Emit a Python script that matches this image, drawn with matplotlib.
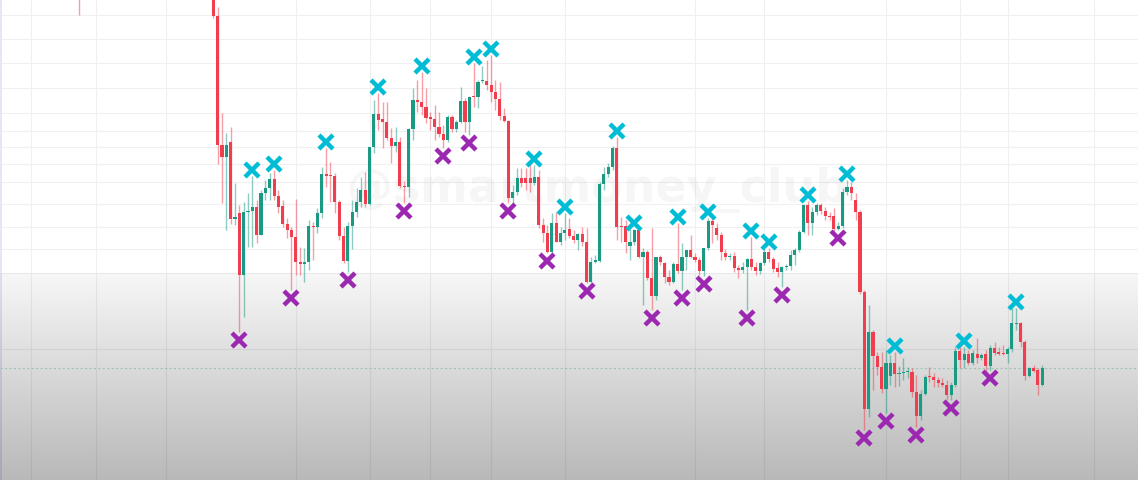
import numpy as np
import matplotlib
matplotlib.use("Agg")
import matplotlib.pyplot as plt

# OHLC, one entry per candle (arbitrary price units)
opens = [510, 484, 355, 343, 358, 281, 287, 225, 288, 289, 293, 265, 307, 312, 321, 304, 294, 276, 270, 263,
         238, 236, 238, 274, 273, 287, 326, 325, 324, 298, 264, 239, 274, 288, 298, 310, 296, 353, 386, 381,
         378, 362, 354, 358, 314, 313, 371, 400, 398, 393, 383, 381, 373, 366, 360, 383, 371, 378, 399, 378,
         404, 403, 419, 419, 415, 408, 401, 384, 379, 302, 308, 322, 322, 322, 317, 323, 275, 267, 248, 277,
         258, 267, 271, 264, 260, 266, 258, 218, 238, 239, 316, 326, 333, 352, 274, 274, 254, 258, 270, 243,
         248, 222, 204, 243, 237, 223, 218, 236, 229, 243, 250, 243, 240, 229, 252, 279, 272, 265, 247, 243,
         244, 232, 230, 233, 241, 233, 229, 237, 248, 241, 232, 228, 233, 234, 245, 250, 268, 295, 277, 288,
         295, 289, 284, 284, 271, 274, 308, 313, 300, 288, 208, 91, 168, 144, 133, 111, 124, 137, 126, 127,
         128, 128, 108, 84, 106, 124, 123, 120, 117, 115, 105, 115, 149, 140, 146, 137, 146, 142, 146, 134,
         152, 147, 147, 146, 151, 176, 177, 158, 124, 132, 130, 115]
highs = [515, 493, 387, 367, 373, 317, 295, 298, 307, 324, 300, 310, 320, 327, 330, 310, 300, 282, 273, 301,
         253, 252, 280, 278, 292, 333, 352, 338, 327, 300, 273, 278, 300, 312, 323, 328, 353, 400, 407, 398,
         398, 372, 373, 363, 319, 372, 412, 420, 428, 412, 388, 395, 388, 375, 385, 385, 380, 413, 402, 404,
         437, 420, 434, 440, 445, 420, 418, 392, 380, 315, 332, 332, 332, 337, 335, 330, 282, 275, 287, 288,
         273, 287, 282, 270, 267, 273, 272, 243, 245, 318, 333, 337, 354, 363, 283, 280, 273, 271, 270, 252,
         250, 272, 243, 245, 238, 230, 238, 277, 257, 250, 265, 247, 243, 252, 282, 283, 277, 268, 251, 247,
         248, 235, 238, 242, 263, 238, 238, 252, 252, 243, 238, 234, 236, 250, 252, 270, 296, 299, 293, 297,
         297, 293, 288, 292, 278, 312, 320, 318, 307, 290, 210, 195, 170, 148, 148, 150, 145, 148, 134, 142,
         133, 132, 125, 110, 125, 133, 127, 123, 122, 120, 118, 153, 153, 153, 150, 150, 162, 147, 150, 155,
         158, 153, 155, 153, 192, 192, 178, 160, 133, 135, 132, 135]
lows = [482, 336, 297, 270, 276, 275, 168, 183, 253, 253, 257, 265, 300, 300, 300, 287, 273, 262, 210, 225,
        225, 218, 230, 240, 267, 282, 313, 298, 287, 260, 237, 228, 251, 283, 293, 293, 295, 347, 370, 352,
        360, 337, 348, 312, 297, 303, 360, 388, 385, 377, 370, 360, 363, 352, 358, 368, 368, 377, 368, 365,
        393, 392, 417, 410, 398, 390, 380, 378, 297, 295, 305, 313, 310, 308, 315, 272, 258, 247, 243, 258,
        255, 260, 262, 257, 250, 254, 217, 217, 237, 238, 310, 323, 330, 260, 258, 247, 240, 255, 242, 195,
        220, 190, 200, 235, 217, 215, 217, 227, 210, 230, 242, 238, 225, 224, 250, 257, 260, 240, 240, 240,
        228, 222, 227, 190, 230, 225, 226, 235, 238, 228, 223, 213, 230, 230, 235, 248, 267, 265, 265, 285,
        286, 280, 280, 268, 270, 272, 305, 300, 280, 206, 70, 83, 110, 125, 107, 87, 115, 113, 114, 120,
        122, 103, 73, 80, 105, 118, 113, 113, 113, 100, 100, 113, 132, 132, 135, 135, 137, 140, 125, 130,
        145, 145, 145, 137, 148, 170, 153, 120, 123, 128, 105, 114]
closes = [484, 355, 343, 355, 281, 283, 225, 288, 289, 293, 265, 307, 312, 321, 304, 293, 276, 270, 263, 238,
          236, 238, 274, 273, 287, 326, 324, 324, 298, 264, 239, 274, 288, 298, 310, 296, 353, 386, 380, 378,
          362, 354, 358, 314, 313, 371, 400, 398, 393, 382, 381, 373, 366, 360, 383, 371, 378, 399, 378, 403,
          403, 418, 420, 415, 408, 401, 384, 379, 302, 308, 322, 317, 317, 317, 323, 275, 267, 248, 277, 258,
          267, 270, 264, 260, 266, 258, 218, 238, 240, 316, 326, 333, 352, 273, 273, 258, 258, 270, 243, 248,
          222, 204, 243, 238, 223, 218, 236, 229, 243, 250, 243, 240, 229, 252, 279, 275, 265, 248, 243, 244,
          232, 230, 233, 241, 233, 229, 237, 248, 241, 231, 228, 233, 234, 245, 250, 268, 295, 277, 288, 295,
          289, 284, 283, 271, 274, 308, 313, 307, 288, 208, 91, 168, 144, 133, 111, 137, 137, 126, 127, 128,
          129, 108, 84, 106, 123, 123, 120, 117, 115, 105, 115, 149, 140, 146, 137, 147, 142, 145, 134, 152,
          147, 146.5, 146, 151, 177, 177, 158, 124, 132, 129, 115, 132]

# one stray candle far to the left, mostly above the visible range
stray_idx = [-31]
stray_ohlc = [(560, 570, 485, 530)]

swing_high_idx = [9, 14, 26, 38, 48, 60, 64, 74, 81, 93, 97, 107, 114, 124, 128, 137, 146, 157, 173, 185]
swing_low_idx = [6, 18, 31, 44, 53, 59, 68, 77, 86, 101, 108, 113, 123, 131, 144, 150, 155, 162, 170, 179]

last_price = 132
grid_prices = [485, 461, 437, 412, 387, 369, 353, 336, 318, 296, 273, 251, 227, 151]
grid_bars = [-42, -27, -11, 19, 36, 50, 64, 81, 111, 127, 155, 172, 183, 203]

UP = "#1a9a82"
DOWN = "#f03e4e"
HIGH_MK = "#00bcd4"
LOW_MK = "#9c27b0"

XMIN, XMAX = -49.15, 213.06
YMIN, YMAX = 20, 500

fig = plt.figure(figsize=(11.38, 4.8), dpi=100)
ax = fig.add_axes([0, 0, 1, 1])
ax.set_xlim(XMIN, XMAX)
ax.set_ylim(YMIN, YMAX)
ax.axis("off")

for p in grid_prices:
    ax.axhline(p, color="#f0f0f3", lw=0.8, zorder=1)
for b in grid_bars:
    ax.axvline(b, color="#f0f0f3", lw=0.8, zorder=1)
ax.axvline(XMIN + 0.15, color="#e4e2f2", lw=1.2, zorder=1)

ax.text(0.525, 0.604, "@smartmoney_club", transform=ax.transAxes, fontsize=33,
        fontweight="bold", color="#000000", alpha=0.035, ha="center", va="center", zorder=1)

# grey fade towards the bottom, laid over the grid
shade = np.zeros((480, 1, 4))
shade[273:, 0, 3] = np.linspace(0.035, 0.28, 207)
ax.imshow(shade, aspect="auto", extent=[XMIN, XMAX, YMIN, YMAX], zorder=1.5,
          interpolation="bilinear")

ax.axhline(last_price, color="#8fbfb2", lw=0.8, ls=(0, (2, 2)), alpha=0.8, zorder=2)

o = np.array(opens, float)
h = np.array(highs, float)
l = np.array(lows, float)
c = np.array(closes, float)
idx = np.arange(len(o))
cols = np.where(c >= o, UP, DOWN)

ax.vlines(idx, l, h, colors=cols, lw=1.0, alpha=0.5, zorder=3)
body_lo = np.minimum(o, c)
body_h = np.maximum(np.abs(c - o), 1.2)
ax.bar(idx, body_h, bottom=body_lo, width=0.72, color=cols, lw=0, zorder=4)

for i, (so, sh, sl, sc) in zip(stray_idx, stray_ohlc):
    sc_col = UP if sc >= so else DOWN
    ax.vlines(i, sl, sh, colors=sc_col, lw=1.0, alpha=0.5, zorder=3)
    ax.bar(i, abs(sc - so), bottom=min(so, sc), width=0.72, color=sc_col, lw=0, zorder=4)

ax.plot(swing_high_idx, h[swing_high_idx] + 6, ls="none", marker="x", ms=10,
        mew=3.2, color=HIGH_MK, zorder=5)
ax.plot(swing_low_idx, l[swing_low_idx] - 8, ls="none", marker="x", ms=10,
        mew=3.2, color=LOW_MK, zorder=5)

ax.set_xlim(XMIN, XMAX)
ax.set_ylim(YMIN, YMAX)
fig.savefig("out.png", dpi=100)
